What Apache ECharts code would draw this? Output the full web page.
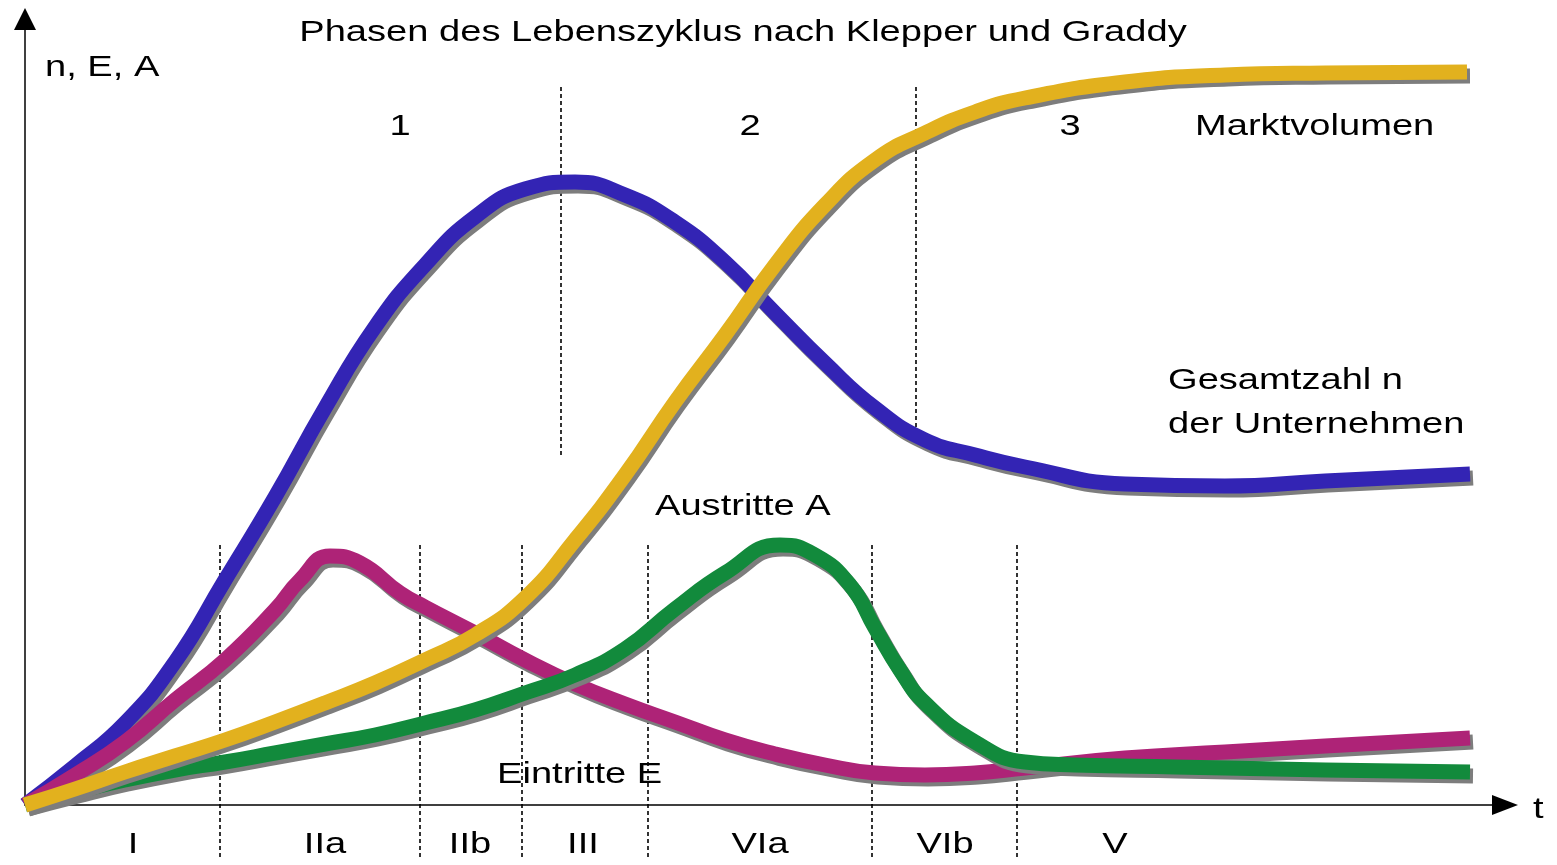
<!DOCTYPE html>
<html>
<head>
<meta charset="utf-8">
<script src="https://cdn.jsdelivr.net/npm/echarts@6/dist/echarts.min.js"></script>
<style>html,body{margin:0;padding:0;background:#fff}#c{width:1557px;height:865px}</style>
</head>
<body>
<div id="c"></div>
<script>
// Time t (arbitrary units) and curve values n, E, A (arbitrary units)
const gesamtzahl = [[0,0],[5,3.9],[10,8.2],[15,14.3],[20,22.5],[25,30.8],[30,39.7],[35,47.8],[40,54],[45,58.8],[50,61.6],[55,62.3],[60,61],[65,58.3],[70,54.3],[75,49.2],[80,44.2],[85,39.7],[90,36.5],[95,35],[100,33.8],[110,32.1],[120,31.9],[130,32.4],[144.5,33.1]];
const marktvolumen = [[0,0],[5,1.6],[10,3.3],[15,4.9],[20,6.5],[25,8.3],[30,10.2],[35,12.2],[40,14.5],[45,17.0],[50,20.7],[55,26.5],[60,33.0],[65,40.3],[70,47.0],[75,54.0],[80,60.0],[85,64.5],[90,67.2],[95,69.3],[100,70.7],[110,72.3],[120,73],[130,73.2],[144.2,73.3]];
const eintritte = [[0,0],[5,3],[10,6.3],[15,10.5],[20,14.5],[25,19.5],[27.5,22.5],[30.5,24.9],[33.5,24.2],[37.5,21.2],[40,19.8],[45,17.2],[50,14.5],[55,12.1],[60,10.1],[65,8.3],[70,6.5],[75,5.1],[80,4],[85,3.2],[90,3],[95,3.2],[100,3.7],[110,4.7],[120,5.3],[130,5.9],[144.5,6.7]];
const austritte = [[0,0],[5,1.3],[10,2.5],[15,3.5],[20,4.3],[25,5.2],[30,6.1],[35,7],[40,8.2],[45,9.5],[50,11.2],[55,13.0],[60,15.6],[65,19.6],[70,23.2],[75.5,26],[79,25.0],[82.5,22],[85,17.7],[87.5,13.5],[90,10.2],[95,6.3],[100,4.3],[105,4],[115,3.8],[130,3.5],[144.5,3.3]];

// Phase borders (top) and stage borders (bottom): t position, top and bottom value
const phaseBorders = [[53.6, 71.8, 34.8], [89.1, 71.8, 36.8]];
const stageBorders = [[19.5, 26, -5.5], [39.5, 26, -5.5], [49.7, 26, -5.5], [62.3, 26, -5.5], [84.7, 26, -5.5], [99.2, 26, -5.5]];

const phaseLabels = ['1', '2', '3'];
const phaseLabelT = [37.5, 72.5, 104.5];
const stageLabels = ['I', 'IIa', 'IIb', 'III', 'VIa', 'VIb', 'V'];
const stageLabelT = [10.8, 30, 44.5, 55.8, 73.5, 92, 109];

const chart = echarts.init(document.getElementById('c'), null, {renderer: 'canvas'});

function curve(name, data, color) {
  return {
    name: name, type: 'line', data: data, smooth: 0.5, showSymbol: false, silent: true,
    clip: false,
    lineStyle: {color: color, width: 15, cap: 'butt', join: 'round',
      shadowColor: 'rgba(125,125,125,1)', shadowBlur: 0, shadowOffsetX: 3, shadowOffsetY: 4}
  };
}
function divider(b) {
  return {
    type: 'line', data: [[b[0], b[1]], [b[0], b[2]]], showSymbol: false, silent: true, clip: false,
    lineStyle: {color: '#000', width: 1.6, type: [4, 3]}, z: 1
  };
}

const series = [];
phaseBorders.forEach(b => series.push(divider(b)));
stageBorders.forEach(b => series.push(divider(b)));
series.push(curve('Gesamtzahl n der Unternehmen', gesamtzahl, '#3324B4'));
series.push(curve('Eintritte E', eintritte, '#AE2377'));
series.push(curve('Austritte A', austritte, '#128A3C'));
series.push(curve('Marktvolumen', marktvolumen, '#E2B11E'));

chart.setOption({
  animation: false,
  backgroundColor: '#fff',
  grid: {left: 25, right: 52, top: 19, bottom: 60, containLabel: false},
  xAxis: {type: 'value', min: 0, max: 148, axisTick: {show: false}, axisLabel: {show: false}, splitLine: {show: false},
    axisLine: {lineStyle: {color: '#000', width: 1.5}, symbol: ['none', 'triangle'], symbolSize: [20, 26]}},
  yAxis: {type: 'value', min: 0, max: 78.6, axisTick: {show: false}, axisLabel: {show: false}, splitLine: {show: false},
    axisLine: {lineStyle: {color: '#000', width: 1.5}, symbol: ['none', 'triangle'], symbolSize: [22, 22]}},
  series: series
});

const FONT = '30px "Liberation Sans", Arial, sans-serif';
const SX = 1.27;
function txt(text, x, y, align) {
  return {type: 'text', x: x, y: y, scaleX: SX, silent: true, z: 100,
    style: {text: text, font: FONT, fill: '#000', textAlign: align || 'left', textVerticalAlign: 'middle'}};
}
const g = [];
g.push(txt('Phasen des Lebenszyklus nach Klepper und Graddy', 743, 33, 'center'));
g.push(txt('n, E, A', 45, 68));
g.push(txt('Marktvolumen', 1195, 127));
g.push(txt('Gesamtzahl n', 1168, 381));
g.push(txt('der Unternehmen', 1168, 425));
g.push(txt('Austritte A', 655, 507));
g.push(txt('Eintritte E', 497, 775));
g.push(txt('t', 1533, 810));
phaseLabels.forEach((l, i) => {
  const p = chart.convertToPixel({gridIndex: 0}, [phaseLabelT[i], 67.8]);
  g.push(txt(l, p[0], p[1], 'center'));
});
stageLabels.forEach((l, i) => {
  const p = chart.convertToPixel({gridIndex: 0}, [stageLabelT[i], -4.0]);
  g.push(txt(l, p[0], p[1], 'center'));
});
chart.setOption({graphic: g});
</script>
</body>
</html>
